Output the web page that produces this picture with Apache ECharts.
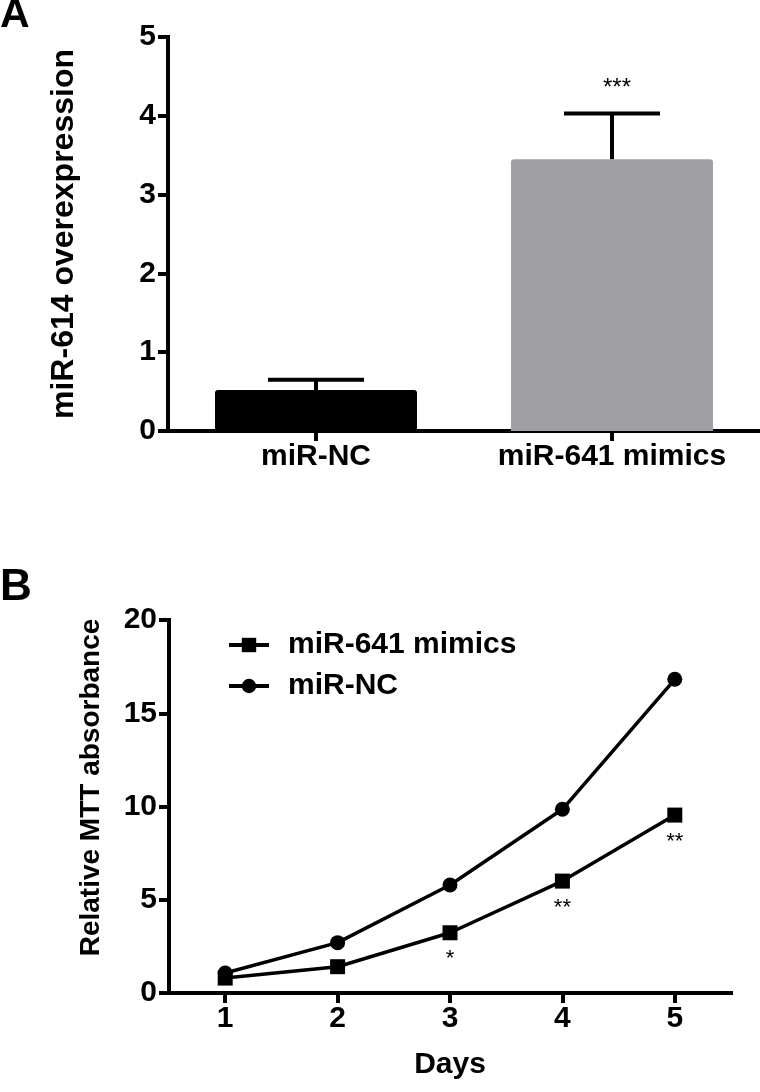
<!DOCTYPE html>
<html><head><meta charset="utf-8">
<script src="https://cdn.jsdelivr.net/npm/echarts@6/dist/echarts.min.js"></script>
<style>html,body{margin:0;padding:0;background:#fff}#c{width:760px;height:1092px}</style>
</head><body><div id="c"></div>
<script>
// ---- Panel A data ----
const barCategories = ['miR-NC', 'miR-641 mimics'];
const barMeans = [0.52, 3.45];
const barSD = [0.13, 0.58];
const barSig = ['', '***'];

// ---- Panel B data ----
const days = ['1', '2', '3', '4', '5'];
const mimicsValues = [0.80, 1.41, 3.23, 6.00, 9.54];
const ncValues = [1.07, 2.70, 5.79, 9.85, 16.82];
const mimicsSig = ['', '', '*', '**', '**'];

const FONT = '"Liberation Sans", Arial, sans-serif';
const axisLineS = { show: true, lineStyle: { color: '#000', width: 4, cap: 'square' } };
const axisTickS = { show: true, length: 10, lineStyle: { color: '#000', width: 4 } };
const lblS = { color: '#000', fontSize: 30, fontWeight: 'bold', fontFamily: FONT };

const chart = echarts.init(document.getElementById('c'), null, { renderer: 'canvas' });
chart.setOption({
  animation: false,
  backgroundColor: '#fff',
  title: [
    { text: 'A', left: 0, top: -5, padding: 0, textStyle: { fontSize: 41, fontWeight: 'bold', color: '#000', fontFamily: FONT } },
    { text: 'B', left: 0, top: 566, padding: 0, textStyle: { fontSize: 44, fontWeight: 'bold', color: '#000', fontFamily: FONT } }
  ],
  grid: [
    { left: 168, right: 0, top: 37, height: 394 },
    { left: 169, right: 29, top: 620, height: 373 }
  ],
  legend: {
    orient: 'vertical', left: 222, top: 625, itemWidth: 40, itemHeight: 18, itemGap: 11,
    lineStyle: { width: 4, color: '#000' },
    itemStyle: { color: '#000' },
    textStyle: { fontSize: 30, lineHeight: 30, fontWeight: 'bold', color: '#000', fontFamily: FONT, padding: [0, 0, 0, 14] },
    data: ['miR-641 mimics', 'miR-NC']
  },
  xAxis: [
    { type: 'category', gridIndex: 0, data: barCategories, axisLine: axisLineS,
      axisTick: Object.assign({ alignWithLabel: true, interval: 0 }, axisTickS),
      axisLabel: Object.assign({ margin: 11, interval: 0, hideOverlap: false }, lblS), splitLine: { show: false } },
    { type: 'category', gridIndex: 1, data: days, boundaryGap: true, axisLine: axisLineS,
      axisTick: Object.assign({ alignWithLabel: true, interval: 0 }, axisTickS),
      axisLabel: Object.assign({ margin: 11, interval: 0 }, lblS), splitLine: { show: false },
      name: 'Days', nameLocation: 'middle', nameGap: 57,
      nameTextStyle: { color: '#000', fontSize: 30, fontWeight: 'bold', fontFamily: FONT } }
  ],
  yAxis: [
    { type: 'value', gridIndex: 0, min: 0, max: 5, interval: 1, axisLine: axisLineS, axisTick: axisTickS,
      axisLabel: Object.assign({ margin: 12 }, lblS), splitLine: { show: false },
      name: 'miR-614 overexpression', nameLocation: 'middle', nameGap: 88,
      nameTextStyle: { color: '#000', fontSize: 32, fontWeight: 'bold', fontFamily: FONT } },
    { type: 'value', gridIndex: 1, min: 0, max: 20, interval: 5, axisLine: axisLineS, axisTick: axisTickS,
      axisLabel: Object.assign({ margin: 12 }, lblS), splitLine: { show: false },
      name: 'Relative MTT absorbance', nameLocation: 'middle', nameGap: 64,
      nameTextStyle: { color: '#000', fontSize: 28, fontWeight: 'bold', fontFamily: FONT, padding: [0, 0, 0, 38] } }
  ],
  series: [
    { type: 'bar', xAxisIndex: 0, yAxisIndex: 0, barWidth: 202,
      data: barMeans.map(function (v, i) {
        return { value: v, itemStyle: { color: i === 0 ? '#000000' : '#a09fa4' } };
      }),
      itemStyle: { borderRadius: [3, 3, 0, 0] } },
    { type: 'custom', coordinateSystem: 'cartesian2d', xAxisIndex: 0, yAxisIndex: 0, z: 5,
      data: barMeans.map(function (m, i) { return [i, m, m + barSD[i]]; }),
      encode: { x: 0, y: [1, 2] },
      renderItem: function (params, api) {
        const i = api.value(0);
        const top = api.coord([i, api.value(2)]);
        const base = api.coord([i, api.value(1)]);
        const half = 48;
        const ch = [
          { type: 'line', shape: { x1: top[0], y1: base[1], x2: top[0], y2: top[1] }, style: { stroke: '#000', lineWidth: 4 } },
          { type: 'line', shape: { x1: top[0] - half, y1: top[1], x2: top[0] + half, y2: top[1] }, style: { stroke: '#000', lineWidth: 4 } }
        ];
        const s = barSig[params.dataIndex];
        if (s) ch.push({ type: 'text', x: top[0] + 5, y: top[1] - 25,
          style: { text: s, fill: '#000', fontSize: 24, fontFamily: FONT, align: 'center', verticalAlign: 'middle' } });
        return { type: 'group', children: ch };
      } },
    { type: 'line', name: 'miR-641 mimics', xAxisIndex: 1, yAxisIndex: 1, data: mimicsValues,
      symbol: 'rect', symbolSize: 15, showAllSymbol: true,
      lineStyle: { color: '#000', width: 3.5 }, itemStyle: { color: '#000' },
      label: { show: true, position: 'bottom', distance: 8, color: '#000', fontSize: 22, fontFamily: FONT,
        formatter: function (p) { return mimicsSig[p.dataIndex]; } } },
    { type: 'line', name: 'miR-NC', xAxisIndex: 1, yAxisIndex: 1, data: ncValues,
      symbol: 'circle', symbolSize: 15, showAllSymbol: true,
      lineStyle: { color: '#000', width: 3.5 }, itemStyle: { color: '#000' } }
  ]
});
</script>
</body></html>
